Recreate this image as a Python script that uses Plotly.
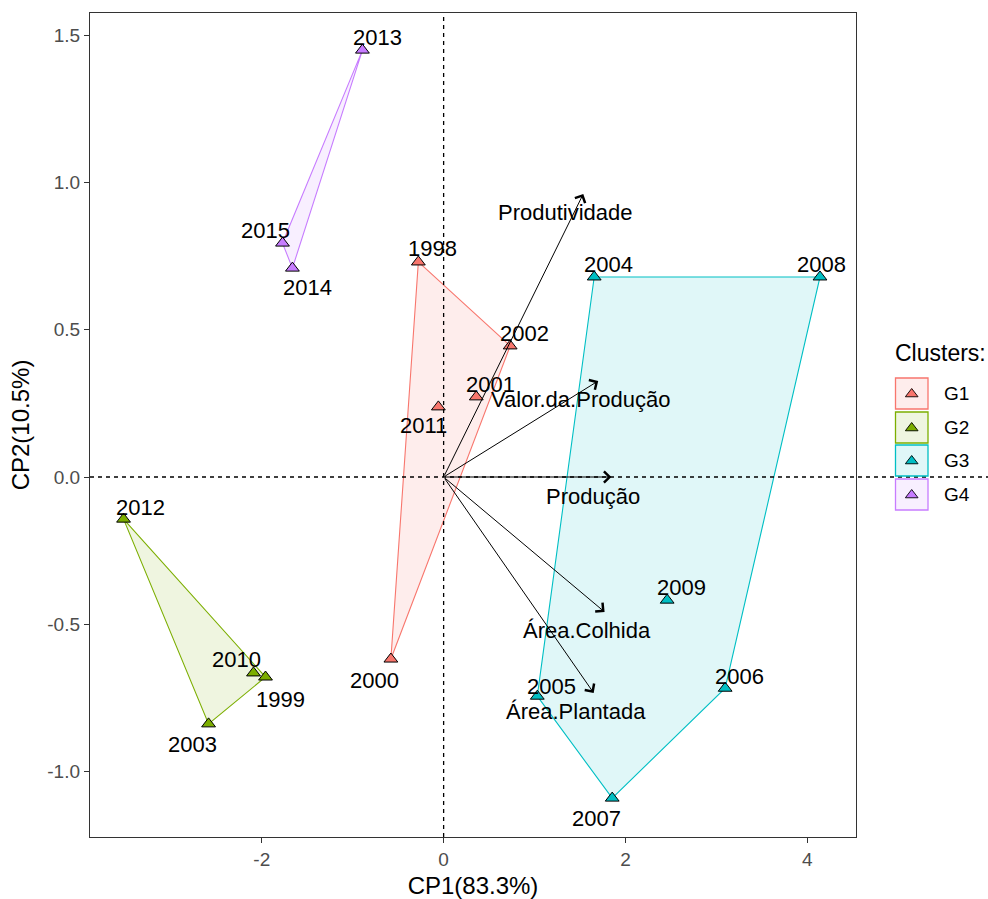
import plotly.graph_objects as go

# ---------------- data ----------------
years = ["1998", "1999", "2000", "2001", "2002", "2003", "2004", "2005", "2006",
         "2007", "2008", "2009", "2010", "2011", "2012", "2013", "2014", "2015"]
cp1 = [-0.278, -1.959, -0.58, 0.359, 0.732, -2.585, 1.656, 1.030, 3.096,
       1.854, 4.139, 2.458, -2.091, -0.058, -3.520, -0.893, -1.663, -1.772]
cp2 = [0.730, -0.679, -0.618, 0.272, 0.445, -0.838, 0.679, -0.744, -0.717,
       -1.090, 0.679, -0.418, -0.665, 0.238, -0.143, 1.449, 0.709, 0.794]
cluster = ["G1", "G2", "G1", "G1", "G1", "G2", "G3", "G3", "G3",
           "G3", "G3", "G3", "G2", "G1", "G2", "G4", "G4", "G4"]

groups = ["G1", "G2", "G3", "G4"]

var_names = ["Produtividade", "Valor.da.Produção", "Produção", "Área.Colhida", "Área.Plantada"]
var_x = [1.536, 1.70, 1.845, 1.77, 1.65]
var_y = [0.961, 0.326, 0.0, -0.458, -0.733]

x_title = "CP1(83.3%)"
y_title = "CP2(10.5%)"
legend_title = "Clusters:"
x_ticks = [-2, 0, 2, 4]
y_ticks = [-1.0, -0.5, 0.0, 0.5, 1.0, 1.5]

# ---------------- style ----------------
colors = {"G1": "#F8766D", "G2": "#7CAE00", "G3": "#00BFC4", "G4": "#C77CFF"}
fills = {"G1": "rgba(248,118,109,0.13)", "G2": "rgba(124,174,0,0.12)",
         "G3": "rgba(0,191,196,0.12)", "G4": "rgba(199,124,255,0.12)"}
# label offsets in pixels (dx right, dy down)
label_off = [(14, -13), (15, 22), (-16, 21), (14, -12), (14, -12), (-16, 21),
             (14, -12), (14, -10), (14, -12), (-16, 20), (2, -12), (14, -13),
             (-17, -13), (-15, 19), (17, -12), (15, -13), (15, 19), (-17, -13)]
FONT = "Liberation Sans, Arial, sans-serif"

W, H = 988, 899
L, R, T, B = 90, 856, 13, 837  # plot area in pixels


def hull(pts):
    pts = sorted(set(pts))
    if len(pts) <= 2:
        return pts

    def cross(o, a, b):
        return (a[0] - o[0]) * (b[1] - o[1]) - (a[1] - o[1]) * (b[0] - o[0])

    lower, upper = [], []
    for p in pts:
        while len(lower) >= 2 and cross(lower[-2], lower[-1], p) <= 0:
            lower.pop()
        lower.append(p)
    for p in reversed(pts):
        while len(upper) >= 2 and cross(upper[-2], upper[-1], p) <= 0:
            upper.pop()
        upper.append(p)
    return lower[:-1] + upper[:-1]


fig = go.Figure()

# hulls
for g in groups:
    pts = [(x, y) for x, y, c in zip(cp1, cp2, cluster) if c == g]
    h = hull(pts)
    h = h + [h[0]]
    fig.add_trace(go.Scatter(
        x=[p[0] for p in h], y=[p[1] for p in h], mode="lines", fill="toself",
        fillcolor=fills[g], line=dict(color=colors[g], width=1.1),
        showlegend=False, hoverinfo="skip", xaxis="x", yaxis="y"))

# zero lines
fig.add_shape(type="line", xref="x", yref="paper", x0=0, x1=0, y0=0, y1=1,
              line=dict(color="black", width=1.3, dash="4px,4px"), layer="above")
fig.add_shape(type="line", xref="paper", yref="y", x0=0, x1=1, y0=0, y1=0,
              line=dict(color="black", width=1.3, dash="4px,4px"), layer="above")

# points
for g in groups:
    xs = [x for x, c in zip(cp1, cluster) if c == g]
    ys = [y for y, c in zip(cp2, cluster) if c == g]
    fig.add_trace(go.Scatter(
        x=xs, y=ys, mode="markers",
        marker=dict(symbol="triangle-up", size=12, color=colors[g],
                    line=dict(color="black", width=1)),
        showlegend=False, xaxis="x", yaxis="y"))

annotations = []
# arrows
for name, vx, vy in zip(var_names, var_x, var_y):
    annotations.append(dict(
        x=vx, y=vy, ax=0, ay=0, xref="x", yref="y", axref="x", ayref="y",
        text="", showarrow=True, arrowhead=4, arrowsize=2.2, arrowwidth=1,
        arrowcolor="black", standoff=0, startstandoff=0))
    annotations.append(dict(
        x=vx, y=vy, xref="x", yref="y", text=name, showarrow=False,
        xshift=-18, yshift=-19, font=dict(family=FONT, size=22, color="black")))

# point labels
for yr, x, y, (dx, dy) in zip(years, cp1, cp2, label_off):
    annotations.append(dict(
        x=x, y=y, xref="x", yref="y", text=yr, showarrow=False,
        xshift=dx, yshift=-dy, font=dict(family=FONT, size=22, color="black")))

# manual legend (pixel coordinate helper axes)
annotations.append(dict(x=893, y=353, xref="x2", yref="y2", text=legend_title,
                        showarrow=False, xanchor="left",
                        font=dict(family=FONT, size=23, color="black")))
key_top = [378, 412, 445, 479]
for g, kt in zip(groups, key_top):
    fig.add_shape(type="rect", xref="x2", yref="y2", x0=895.5, x1=928, y0=kt, y1=kt + 31,
                  fillcolor=fills[g], line=dict(color=colors[g], width=1.3))
    annotations.append(dict(x=942, y=kt + 15.5, xref="x2", yref="y2", text=g,
                            showarrow=False, xanchor="left",
                            font=dict(family=FONT, size=19, color="black")))
fig.add_trace(go.Scatter(
    x=[911.7] * 4, y=[kt + 16 for kt in key_top], mode="markers",
    marker=dict(symbol="triangle-up", size=11, color=[colors[g] for g in groups],
                line=dict(color="black", width=1)),
    showlegend=False, xaxis="x2", yaxis="y2", hoverinfo="skip"))

dom = (R - L) / (W - L)
fig.update_layout(
    width=W, height=H,
    margin=dict(l=L, r=0, t=T, b=H - B),
    paper_bgcolor="white", plot_bgcolor="white",
    showlegend=False,
    annotations=annotations,
    font=dict(family=FONT),
    xaxis=dict(domain=[0, dom], range=[-3.889, 4.535], tickvals=x_ticks,
               ticktext=[str(v) for v in x_ticks],
               showgrid=False, zeroline=False, showline=True, mirror=True,
               linecolor="#333333", linewidth=1.3, ticks="outside", ticklen=5,
               tickcolor="#333333", tickwidth=1.1,
               tickfont=dict(family=FONT, size=19, color="#4D4D4D"),
               title=dict(text=x_title, standoff=12,
                          font=dict(family=FONT, size=24, color="black"))),
    yaxis=dict(domain=[0, 1], range=[-1.222, 1.575], tickvals=y_ticks,
               ticktext=["%.1f" % v for v in y_ticks],
               showgrid=False, zeroline=False, showline=True, mirror=True,
               linecolor="#333333", linewidth=1.3, ticks="outside", ticklen=5,
               tickcolor="#333333", tickwidth=1.1,
               tickfont=dict(family=FONT, size=19, color="#4D4D4D"),
               title=dict(text=y_title, standoff=10,
                          font=dict(family=FONT, size=24, color="black"))),
    xaxis2=dict(domain=[dom, 1], range=[R, W], visible=False, anchor="y2",
                fixedrange=True),
    yaxis2=dict(domain=[0, 1], range=[B, T], visible=False, anchor="x2",
                fixedrange=True),
)

fig.write_html(
    "out.html",
    config={"displayModeBar": False},
    post_script="document.body.style.margin='0';document.body.style.overflow='hidden';",
)
